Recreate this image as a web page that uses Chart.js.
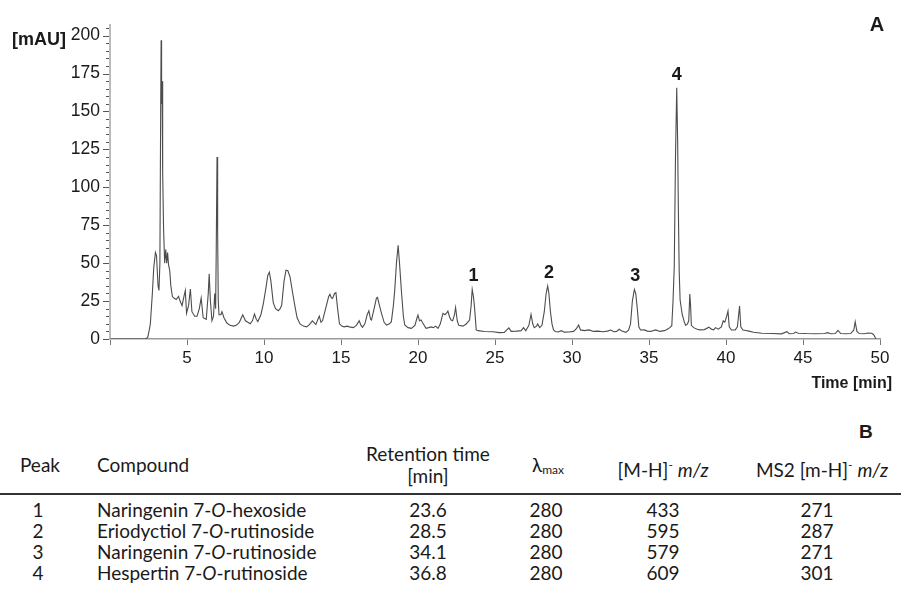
<!DOCTYPE html>
<html>
<head>
<meta charset="utf-8">
<script src="https://cdn.jsdelivr.net/npm/chart.js@4/dist/chart.umd.min.js"></script>
<style>
  html, body { margin: 0; padding: 0; background: #fff; }
  #wrap { position: relative; width: 901px; height: 592px; overflow: hidden; }
  #chart { position: absolute; left: 0; top: 0; }
  .t { position: absolute; font-family: Lato, "Noto Sans", sans-serif; font-size: 19px; color: #1a1a1a; line-height: 20px; white-space: nowrap; }
  .c { text-align: center; width: 240px; }
  .rule { position: absolute; left: 0; width: 901px; top: 493px; height: 2px; background: #333; }
  .B { position: absolute; font-family: "Liberation Sans", Arial, sans-serif; font-weight: bold; font-size: 19px; color: #1a1a1a; }
  sub { font-size: 12px; vertical-align: -2px; }
  sup { font-size: 12px; vertical-align: 8px; }
</style>
</head>
<body>
<div id="wrap">
  <canvas id="chart" width="901" height="400"></canvas>
</div>
<script>
// ---- Chromatogram data (time [min], absorbance [mAU]) ----
const times = [
  0, 2.3, 2.45, 2.55, 2.62, 2.75, 2.84, 2.95, 3.02, 3.12, 3.18, 3.24, 3.29, 3.32, 3.35, 3.38, 3.42, 3.48, 3.55, 3.62,
  3.68, 3.74, 3.8, 3.88, 3.95, 4.05, 4.15, 4.3, 4.45, 4.55, 4.68, 4.8, 4.89, 4.97, 5.1, 5.22, 5.32, 5.5, 5.65, 5.8,
  5.92, 6.05, 6.25, 6.38, 6.44, 6.52, 6.62, 6.72, 6.8, 6.86, 6.9, 6.95, 6.99, 7.03, 7.08, 7.2, 7.27, 7.4, 7.59, 7.8,
  8.02, 8.2, 8.4, 8.62, 8.8, 8.95, 9.1, 9.25, 9.38, 9.5, 9.6, 9.8, 9.96, 10.1, 10.25, 10.35, 10.45, 10.6, 10.75, 10.93,
  11.05, 11.15, 11.3, 11.43, 11.55, 11.69, 11.85, 12.01, 12.15, 12.34, 12.55, 12.77, 12.95, 13.14, 13.28, 13.37, 13.5, 13.59, 13.7, 13.8,
  14.0, 14.2, 14.28, 14.38, 14.45, 14.58, 14.67, 14.78, 14.9, 15.05, 15.2, 15.4, 15.55, 15.8, 16.0, 16.18, 16.3, 16.4, 16.55, 16.7,
  16.81, 16.92, 16.98, 17.15, 17.3, 17.37, 17.5, 17.63, 17.8, 17.95, 18.15, 18.27, 18.4, 18.49, 18.6, 18.71, 18.8, 18.92, 19.05, 19.14,
  19.35, 19.57, 19.8, 19.94, 20.0, 20.1, 20.2, 20.3, 20.52, 20.7, 20.84, 21.0, 21.15, 21.3, 21.45, 21.62, 21.75, 21.85, 21.94, 22.05,
  22.15, 22.25, 22.37, 22.44, 22.55, 22.65, 22.91, 23.13, 23.35, 23.45, 23.52, 23.6, 23.67, 23.78, 23.9, 24.32, 24.86, 25.29, 25.6, 25.9,
  26.05, 26.4, 26.7, 26.85, 27.0, 27.2, 27.34, 27.45, 27.55, 27.7, 27.77, 27.9, 28.05, 28.2, 28.32, 28.42, 28.5, 28.6, 28.7, 28.8,
  28.92, 29.1, 29.3, 29.5, 29.8, 30.1, 30.3, 30.43, 30.55, 30.8, 31.1, 31.4, 31.7, 32.0, 32.3, 32.52, 32.7, 32.9, 33.06, 33.2,
  33.5, 33.68, 33.8, 33.92, 34.05, 34.14, 34.24, 34.34, 34.45, 34.7, 34.9, 35.1, 35.44, 35.7, 36.0, 36.19, 36.35, 36.48, 36.56, 36.64,
  36.72, 36.8, 36.86, 36.9, 36.96, 37.02, 37.16, 37.3, 37.38, 37.5, 37.58, 37.65, 37.7, 37.75, 37.9, 38.13, 38.3, 38.6, 38.89, 39.05,
  39.2, 39.32, 39.5, 39.7, 39.82, 39.92, 40.04, 40.13, 40.21, 40.35, 40.6, 40.74, 40.88, 40.96, 41.1, 41.3, 41.48, 41.8, 42.34, 43.0,
  43.6, 43.96, 44.1, 44.4, 44.5, 44.7, 45.2, 45.8, 46.4, 46.6, 46.8, 47.1, 47.27, 47.45, 47.8, 48.1, 48.3, 48.39, 48.5, 48.65,
  49.0, 49.2, 49.45, 49.58, 49.7, 49.75
];
const absorbance = [
  0, 0, 1, 6, 10, 30, 47, 57, 55, 35, 32, 50, 150, 197, 155, 170, 110, 72, 50, 59,
  50, 57, 49, 45, 35, 28, 27, 26, 28, 25, 22, 28, 32, 17, 22, 33, 18, 15, 15, 20,
  27, 14, 13, 30, 43, 25, 12, 15, 30, 20, 60, 120, 70, 25, 16, 16, 18, 14, 10.5, 9,
  8.5, 9, 11, 16, 12, 11, 10, 12, 16.4, 13, 11.5, 16, 23.5, 32, 42, 44, 38, 24, 20, 18.6,
  20, 22.4, 38, 45.4, 45, 41, 31, 21.5, 14, 9.9, 8.5, 8, 9.5, 12, 10.5, 9.5, 13, 15.1, 11, 12,
  20, 28, 29.5, 27, 26.8, 30, 30.5, 20, 10, 8.5, 8, 8.5, 8, 7.5, 9, 12, 9, 7.7, 10, 16,
  18.6, 13, 12.5, 20, 27, 27.4, 22, 16.9, 11, 9.2, 10, 11.4, 22, 32.2, 50, 61.8, 50, 32, 15, 9.2,
  7.5, 7, 9, 14, 15.8, 12, 12.5, 10.7, 7, 7.5, 8, 7.5, 8.5, 7, 10, 16.9, 16, 17, 18.4, 14.5,
  12.5, 12, 16, 20.8, 12, 9, 8.5, 9.9, 12.5, 22, 32.7, 28, 21, 6, 5.5, 4.9, 4.8, 4.2, 4.3, 7.3,
  5, 5.2, 5.5, 7.5, 5.5, 9, 16.2, 10, 7.5, 8.5, 9.9, 7.5, 9, 18, 30, 34.9, 30, 18, 10, 6,
  4.9, 4.6, 5.5, 4.5, 4.6, 5, 7, 9.2, 6, 5.5, 6, 5, 5.2, 4.8, 5.2, 5.9, 4.8, 5, 6.4, 5.5,
  4.4, 6, 10, 25, 32.7, 30, 20, 8, 5.9, 6, 5.2, 5, 6, 5, 5.5, 6.4, 7.5, 8.8, 25, 47.6,
  120, 165.6, 130, 91, 45, 25.7, 16, 11, 9, 10, 12, 29.6, 22, 9, 7.5, 6.4, 6, 6.2, 7.8, 6.5,
  6, 7.5, 6.5, 8, 12, 11, 15, 18.4, 8, 5.9, 6, 8, 21.7, 8, 5.9, 5.6, 5.2, 4.5, 3.8, 3.6,
  3.4, 4.8, 3.5, 3.6, 4.6, 3.8, 3.6, 3.5, 3.6, 4.2, 3.5, 3.6, 5.7, 3.6, 3.5, 3.6, 6, 11.4, 5, 3.6,
  3.5, 4, 3.8, 3.0, 0.8, 0
];
const xTickValues = [0, 5, 10, 15, 20, 25, 30, 35, 40, 45, 50];
const yMajorValues = [0, 25, 50, 75, 100, 125, 150, 175, 200];
const peakLabels = ["1", "2", "3", "4"];
const peakTimes = [23.6, 28.5, 34.1, 36.8];
const peakHeights = [32.7, 34.9, 32.7, 165.6];

// ---- Table data ----
const tableHeaders = ["Peak", "Compound", "Retention time", "[min]"];
const peakNumbers = ["1", "2", "3", "4"];
const compoundBase = ["Naringenin 7-", "Eriodyctiol 7-", "Naringenin 7-", "Hespertin 7-"];
const compoundSugar = ["-hexoside", "-rutinoside", "-rutinoside", "-rutinoside"];
const retentionTimes = ["23.6", "28.5", "34.1", "36.8"];
const lambdaMax = ["280", "280", "280", "280"];
const mhIons = ["433", "595", "579", "609"];
const ms2Ions = ["271", "287", "271", "301"];

const points = times.map((t, i) => ({ x: t, y: absorbance[i] }));

const decor = {
  id: 'decor',
  afterDraw(chart) {
    const ctx = chart.ctx;
    const xs = chart.scales.x, ys = chart.scales.y;
    ctx.save();
    ctx.strokeStyle = '#555';
    ctx.lineWidth = 1;
    const left = chart.chartArea.left;
    for (let v = 0; v <= 205; v += 5) {
      const py = Math.round(ys.getPixelForValue(v)) + 0.5;
      const len = (v % 25 === 0) ? 6 : 3;
      ctx.beginPath();
      ctx.moveTo(left - len - 1, py);
      ctx.lineTo(left - 1, py);
      ctx.stroke();
    }
    ctx.fillStyle = '#1a1a1a';
    ctx.font = 'bold 18px "Liberation Sans", Arial, sans-serif';
    ctx.textAlign = 'left';
    ctx.textBaseline = 'middle';
    ctx.fillText('[mAU]', 12, 40);
    ctx.font = 'bold 16px "Liberation Sans", Arial, sans-serif';
    ctx.textAlign = 'right';
    ctx.fillText('Time [min]', 892, 384);
    ctx.font = 'bold 20px "Liberation Sans", Arial, sans-serif';
    ctx.textAlign = 'center';
    ctx.fillText('A', 877, 25);
    ctx.font = 'bold 18px "Liberation Sans", Arial, sans-serif';
    peakLabels.forEach((lab, i) => {
      const px = xs.getPixelForValue(peakTimes[i]);
      const py = ys.getPixelForValue(peakHeights[i]) - 13;
      ctx.fillText(lab, px, py);
    });
    ctx.restore();
  }
};

new Chart(document.getElementById('chart'), {
  type: 'line',
  data: {
    datasets: [{
      data: points,
      borderColor: '#4d4d4d',
      borderWidth: 1.1,
      pointRadius: 0,
      tension: 0,
      fill: false
    }]
  },
  options: {
    responsive: false,
    animation: false,
    devicePixelRatio: 1,
    layout: { padding: { top: 25, right: 21, left: 0, bottom: 0 } },
    plugins: { legend: { display: false }, tooltip: { enabled: false } },
    scales: {
      x: {
        type: 'linear',
        min: 0, max: 50,
        afterBuildTicks: (s) => { s.ticks = xTickValues.map(v => ({ value: v })); },
        afterFit: (s) => { s.height = 61; },
        ticks: {
          autoSkip: false,
          maxRotation: 0,
          padding: 3,
          color: '#1a1a1a',
          font: { family: '"Liberation Sans", Arial, sans-serif', size: 17 },
          callback: (v) => (v === 0 ? '' : String(v))
        },
        grid: { drawOnChartArea: false, drawTicks: true, tickLength: 6, color: '#777', lineWidth: 1 },
        border: { display: true, color: '#999', width: 1.5 }
      },
      y: {
        type: 'linear',
        min: 0, max: 207,
        afterBuildTicks: (s) => { s.ticks = yMajorValues.map(v => ({ value: v })); },
        afterFit: (s) => { s.width = 110; },
        ticks: {
          autoSkip: false,
          padding: 10,
          color: '#1a1a1a',
          font: { family: '"Liberation Sans", Arial, sans-serif', size: 17.5 },
          callback: (v) => String(v)
        },
        grid: { drawOnChartArea: false, drawTicks: false },
        border: { display: true, color: '#bbb', width: 2 }
      }
    }
  },
  plugins: [decor]
});

// ---- Build table ----
(function () {
  const wrap = document.getElementById('wrap');
  function cell(html, cx, cy, align) {
    const d = document.createElement('div');
    d.className = 't' + (align === 'left' ? '' : ' c');
    d.innerHTML = html;
    d.style.left = (align === 'left' ? cx : cx - 120) + 'px';
    d.style.top = (cy - 10) + 'px';
    wrap.appendChild(d);
  }
  const hy = 465;
  cell(tableHeaders[0], 40, hy);
  cell(tableHeaders[1], 97, hy, 'left');
  cell(tableHeaders[2], 428, 454);
  cell(tableHeaders[3], 428, 476);
  cell('λ<sub>max</sub>', 548, hy);
  cell('[M-H]<sup>-</sup> <i>m/z</i>', 663, hy);
  cell('MS2 [m-H]<sup>-</sup> <i>m/z</i>', 822, hy);
  const rule = document.createElement('div');
  rule.className = 'rule';
  wrap.appendChild(rule);
  const B = document.createElement('div');
  B.className = 'B';
  B.textContent = 'B';
  B.style.left = '859px';
  B.style.top = '421px';
  wrap.appendChild(B);
  const rowY = [510, 531, 552, 573];
  for (let i = 0; i < peakNumbers.length; i++) {
    const y = rowY[i];
    cell(peakNumbers[i], 38, y);
    cell(compoundBase[i] + '<i>O</i>' + compoundSugar[i], 97, y, 'left');
    cell(retentionTimes[i], 428, y);
    cell(lambdaMax[i], 546, y);
    cell(mhIons[i], 663, y);
    cell(ms2Ions[i], 817, y);
  }
})();
</script>
</body>
</html>
